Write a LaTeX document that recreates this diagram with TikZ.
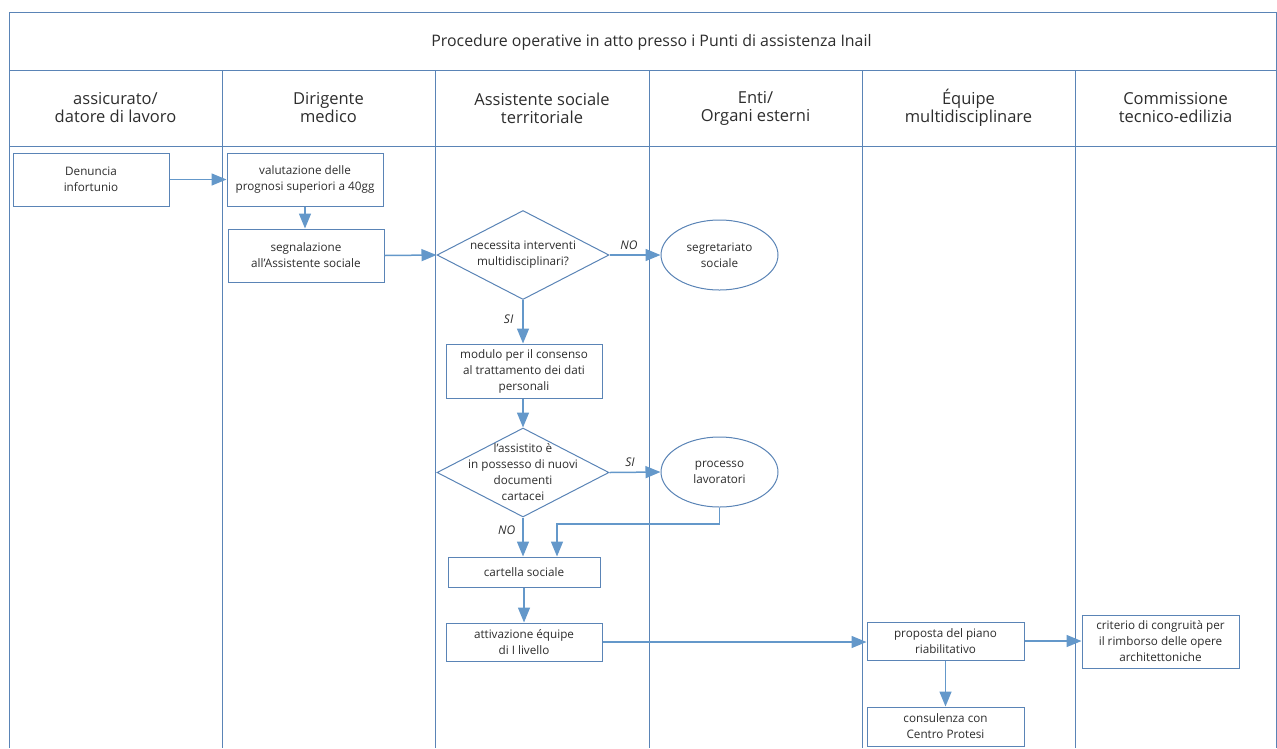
\documentclass[tikz,border=0pt]{standalone}
\usepackage{fontspec}
\setmainfont{Open Sans}
\usetikzlibrary{shapes.geometric,arrows.meta}
\definecolor{lane}{RGB}{90,132,182}
\definecolor{arr}{RGB}{100,152,202}
\definecolor{txt}{RGB}{45,45,45}
\tikzset{
  lanel/.style={draw=lane, line width=1pt},
  box/.style={draw=lane, line width=1pt, fill=white, align=center, inner sep=0pt,
    text=txt, font=\fontsize{11.7}{16}\selectfont},
  dia/.style={draw=lane, line width=1pt, fill=white, diamond, inner sep=0pt, aspect=1.9},
  ell/.style={draw=lane, line width=1pt, fill=white, ellipse, inner sep=0pt, align=center,
    text=txt, font=\fontsize{11.7}{16}\selectfont, minimum width=117pt, minimum height=70pt},
  lbl/.style={align=center, text=txt, font=\fontsize{11.7}{16}\selectfont, inner sep=0pt},
  yn/.style={text=txt, font=\fontsize{12}{14}\selectfont\itshape, inner sep=0pt},
  hdr/.style={align=center, text=txt, font=\fontsize{16.5}{18}\selectfont, inner sep=0pt},
  ttl/.style={align=center, text=txt, font=\fontsize{15.9}{18}\selectfont, inner sep=0pt},
  conn/.style={draw=arr, line width=1.5pt, -{Triangle[length=15pt,width=12pt]}},
}
\begin{document}
\begin{tikzpicture}[x=1pt,y=-1pt]
\useasboundingbox (0,0) rectangle (1277,748);
% frame and lanes
\draw[lanel] (9,748) -- (9,12) -- (1276,12) -- (1276,748);
\draw[lanel] (9,70) -- (1276,70);
\draw[lanel] (9,146) -- (1276,146);
\foreach \x in {222,435,649,862,1075} \draw[lanel] (\x,70) -- (\x,748);
% title and headers
\node[ttl] (title) at (651.5,42) {Procedure operative in atto presso i Punti di assistenza Inail};
\node[hdr] (h1) at (115.5,108) {assicurato/\\datore di lavoro};
\node[hdr] (h2) at (328.5,108) {Dirigente\\medico};
\node[hdr] (h3) at (542,108) {Assistente sociale\\territoriale};
\node[hdr] (h4) at (755.5,108) {Enti/\\Organi esterni};
\node[hdr] (h5) at (968.5,108) {Équipe\\multidisciplinare};
\node[hdr] (h6) at (1175.5,108) {Commissione\\tecnico-edilizia};
% nodes
\node[box, minimum width=156pt, minimum height=53pt] (den) at (91,179.5) {Denuncia\\infortunio};
\node[box, minimum width=156pt, minimum height=53pt] (val) at (305,179.5) {valutazione delle\\prognosi superiori a 40gg};
\node[box, minimum width=156pt, minimum height=53pt] (seg) at (306,255.5) {segnalazione\\all’Assistente sociale};
\node[dia, minimum width=172pt, minimum height=89pt] (d1) at (523,255) {};
\node[lbl] (d1t) at (523,255) {necessita interventi\\multidisciplinari?};
\node[ell] (segr) at (719.5,255) {segretariato\\sociale};
\node[box, minimum width=156pt, minimum height=54pt] (mod) at (524,371) {modulo per il consenso\\al trattamento dei dati\\personali};
\node[dia, minimum width=172pt, minimum height=89pt] (d2) at (523,472.5) {};
\node[lbl] (d2t) at (523,472.5) {l’assistito è\\in possesso di nuovi\\documenti\\cartacei};
\node[ell] (proc) at (719.5,472) {processo\\lavoratori};
\node[box, minimum width=152pt, minimum height=30pt] (cart) at (524,572) {cartella sociale};
\node[box, minimum width=156pt, minimum height=38pt] (att) at (524,642) {attivazione équipe\\di I livello};
\node[box, minimum width=157pt, minimum height=38pt] (prop) at (945.5,641) {proposta del piano\\riabilitativo};
\node[box, minimum width=157pt, minimum height=39pt] (cons) at (945.5,726.5) {consulenza con\\Centro Protesi};
\node[box, minimum width=157pt, minimum height=53pt] (crit) at (1160.5,641.5) {criterio di congruità per\\il rimborso delle opere\\architettoniche};
% connectors
\draw[conn] (den.east) -- (den.east -| val.west);
\draw[conn] (val.south) -- (val.south |- seg.north);
\draw[conn] (seg.east) -- (d1.west);
\draw[conn] (d1.east) -- (segr.west) node[yn, pos=0.38, above=5pt] (no1) {NO};
\draw[conn] (d1.south) -- (d1.south |- mod.north) node[yn, pos=0.45, left=9pt] (si1) {SI};
\draw[conn] (mod.south -| d2.north) -- (d2.north);
\draw[conn] (d2.east) -- (proc.west) node[yn, pos=0.4, above=5pt] (si2) {SI};
\draw[conn] (d2.south) -- (d2.south |- cart.north) node[yn, pos=0.32, left=7pt] (no2) {NO};
\coordinate (k) at (557,524);
\draw[conn] (proc.south) |- (k) -- (k |- cart.north);
\draw[conn] (cart.south) -- (att.north);
\draw[conn] (att.east) -- (att.east -| prop.west);
\draw[conn] (prop.east) -- (prop.east -| crit.west);
\draw[conn] (prop.south) -- (cons.north);
\end{tikzpicture}
\end{document}
